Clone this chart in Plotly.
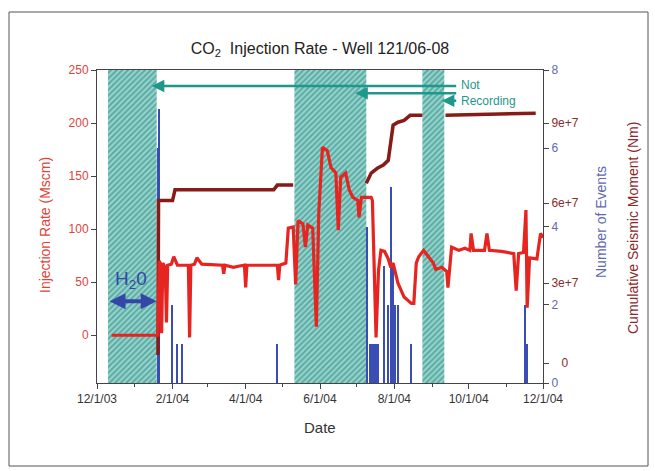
import plotly.graph_objects as go

# ---------------- data ----------------
inj_dates = ["2003-12-13", "2004-01-19", "2004-01-20", "2004-01-21", "2004-01-22", "2004-01-23",
             "2004-01-24", "2004-01-26", "2004-01-27", "2004-01-28", "2004-01-31", "2004-02-02",
             "2004-02-05", "2004-02-14", "2004-02-15", "2004-02-16", "2004-02-19", "2004-02-21",
             "2004-02-25", "2004-03-13", "2004-03-14", "2004-03-15", "2004-03-22", "2004-03-26",
             "2004-03-31", "2004-04-01", "2004-04-02", "2004-04-27", "2004-04-28", "2004-04-29",
             "2004-05-04", "2004-05-06", "2004-05-10", "2004-05-12", "2004-05-14", "2004-05-18",
             "2004-05-20", "2004-05-22", "2004-05-26", "2004-05-29", "2004-05-31", "2004-06-03",
             "2004-06-07", "2004-06-10", "2004-06-14", "2004-06-16", "2004-06-18", "2004-06-22",
             "2004-06-25", "2004-06-28", "2004-07-02", "2004-07-03", "2004-07-05", "2004-07-13",
             "2004-07-14", "2004-07-17", "2004-07-19", "2004-07-21", "2004-07-24", "2004-07-27",
             "2004-07-29", "2004-07-31", "2004-08-02", "2004-08-04", "2004-08-09", "2004-08-15",
             "2004-08-17", "2004-08-19", "2004-08-21", "2004-08-25", "2004-08-29", "2004-09-02",
             "2004-09-04", "2004-09-09", "2004-09-13", "2004-09-14", "2004-09-17", "2004-09-23",
             "2004-09-28", "2004-10-02", "2004-10-03", "2004-10-05", "2004-10-14", "2004-10-16",
             "2004-10-18", "2004-10-28", "2004-11-07", "2004-11-09", "2004-11-11", "2004-11-15",
             "2004-11-17", "2004-11-18", "2004-11-20", "2004-11-26", "2004-11-29", "2004-12-01"]
inj_rate = [0, 0, 0, 70, 68, 2,
            68, 64, 12, 66, 67, 74,
            66, 66, -2, 66, 67, 73,
            67, 66, 58, 66, 64, 65,
            66, 45, 66, 66, 52, 66,
            68, 101, 102, 48, 108, 105,
            83, 104, 101, 8, 115, 177,
            174, 158, 153, 99, 149, 153,
            137, 130, 127, 111, 130, 130,
            127, -2, 61, 80, 79, 72,
            64, 68, 58, 49, 36, 30,
            30, 68, 74, 80, 74, 68,
            62, 64, 60, 45, 83, 80,
            82, 80, 96, 80, 80, 96,
            80, 79, 77, 42, 77, 78,
            118, 26, 73, 72, 96, 92]

event_dates = ["2004-01-20", "2004-01-21", "2004-02-01", "2004-02-05", "2004-02-09", "2004-04-27",
               "2004-07-10", "2004-07-12", "2004-07-13", "2004-07-14", "2004-07-15", "2004-07-16",
               "2004-07-17", "2004-07-18", "2004-07-19", "2004-07-24", "2004-07-27", "2004-07-29",
               "2004-07-30", "2004-07-31", "2004-08-02", "2004-08-04", "2004-08-15",
               "2004-11-16", "2004-11-18"]
event_counts = [6, 7, 2, 1, 1, 1,
                4, 1, 1, 1, 1, 1,
                1, 1, 1, 3, 2, 5,
                2, 3, 2, 2, 1,
                2, 1]

moment_dates = ["2004-01-20 00:00", "2004-01-20 12:00", "2004-02-01", "2004-02-02", "2004-02-03",
                "2004-04-24", "2004-04-27", "2004-05-10", None,
                "2004-07-09", "2004-07-13", "2004-07-18", "2004-07-23", "2004-07-27", "2004-07-29",
                "2004-07-31", "2004-08-04", "2004-08-09", "2004-08-14", "2004-08-24", None,
                "2004-09-12", "2004-10-20", "2004-11-25"]
moment_vals = [0.3e7, 6.1e7, 6.1e7, 6.3e7, 6.5e7,
               6.5e7, 6.68e7, 6.68e7, None,
               6.75e7, 7.13e7, 7.31e7, 7.43e7, 7.61e7, 8.36e7,
               8.93e7, 9.04e7, 9.11e7, 9.3e7, 9.3e7, None,
               9.3e7, 9.33e7, 9.38e7]

# periods when the seismic array was not recording
gap_starts = ["2003-12-10", "2004-05-11", "2004-08-24"]
gap_ends = ["2004-01-19", "2004-07-09", "2004-09-11"]

inj_ticks = [0, 50, 100, 150, 200, 250]
event_ticks = [0, 2, 4, 6, 8]
moment_ticks = [0, 3e7, 6e7, 9e7]
moment_ticktext = ["\u00a0\u00a0\u00a00", "3e+7", "6e+7", "9e+7"]

Y_RANGE = [-45, 250]
EV_RANGE = [0, 8]
MOM_RANGE = [-0.75e7, 11e7]

RED = "#e62420"
MAROON = "#861b18"
BLUE = "#3a4db5"
TEAL = "#1f978b"
FONT = "Liberation Sans, Arial, sans-serif"

# ---------------- figure ----------------
fig = go.Figure()

# hatched "not recording" bands
for s, e in zip(gap_starts, gap_ends):
    fig.add_trace(go.Scatter(
        x=[s, e, e, s, s], y=[Y_RANGE[0], Y_RANGE[0], Y_RANGE[1], Y_RANGE[1], Y_RANGE[0]],
        mode="lines", line=dict(width=0), fill="toself", fillcolor="#56aea5",
        fillpattern=dict(shape="/", bgcolor="#54ada4", fgcolor="#eaf7f5", size=4, solidity=0.5),
        hoverinfo="skip", showlegend=False, xaxis="x", yaxis="y"))

fig.add_trace(go.Bar(x=event_dates, y=event_counts, marker=dict(color=BLUE, line=dict(width=0)),
                     width=1.0 * 86400000, showlegend=False, xaxis="x", yaxis="y2"))

fig.add_trace(go.Scatter(x=moment_dates, y=moment_vals, mode="lines",
                         line=dict(color=MAROON, width=3.5), connectgaps=False,
                         showlegend=False, xaxis="x", yaxis="y3"))

fig.add_trace(go.Scatter(x=inj_dates, y=inj_rate, mode="lines",
                         line=dict(color=RED, width=3.2), showlegend=False,
                         xaxis="x", yaxis="y4"))

L, R, T, B = 97, 543, 70, 383
W, H = 655, 471


def px(xp):
    return (xp - L) / (R - L)


def py(yp):
    return (B - yp) / (B - T)


axis_common = dict(showgrid=False, zeroline=False, linecolor="#444", linewidth=1,
                   ticks="outside", ticklen=5, tickcolor="#444")

fig.update_layout(
    width=W, height=H,
    margin=dict(l=L, r=W - R, t=T, b=H - B),
    paper_bgcolor="white", plot_bgcolor="white",
    font=dict(family=FONT, size=12, color="#333"),
    bargap=0,
    title=dict(text="CO<sub>2</sub>  Injection Rate - Well 121/06-08",
               x=0.5 * (L + R) / W, xanchor="center", y=1 - 48 / H, yanchor="middle",
               font=dict(size=16, color="#222", family=FONT)),
    xaxis=dict(type="date", range=["2003-12-01", "2004-12-01"], tick0="2003-12-01", dtick="M2",
               tickformat="%-m/%-d/%y", showline=True, mirror=True,
               minor=dict(dtick="M1", ticks="outside", ticklen=3, tickcolor="#444"),
               tickfont=dict(size=12, color="#333"), **axis_common),
    yaxis=dict(range=Y_RANGE, tickvals=inj_ticks, showline=True,
               tickfont=dict(size=12, color="#e04438"), **axis_common),
    yaxis2=dict(range=EV_RANGE, tickvals=event_ticks, overlaying="y", side="right", anchor="x",
                showline=True, tickfont=dict(size=12, color="#6367b0"), **axis_common),
    yaxis3=dict(range=MOM_RANGE, tickvals=moment_ticks, ticktext=moment_ticktext,
                overlaying="y", side="right", anchor="x", showline=False,
                tickfont=dict(size=12, color="#8b2a2a"),
                showgrid=False, zeroline=False, ticks="outside", ticklen=5, tickcolor="#444"),
    yaxis4=dict(matches="y", overlaying="y", visible=False, range=Y_RANGE),
)

ann = []
ann.append(dict(text="Injection Rate (Mscm)", xref="paper", yref="paper", x=px(45), y=py(225),
                xanchor="center", yanchor="middle",
                textangle=-90, showarrow=False, font=dict(size=14, color="#e04438")))
ann.append(dict(text="Number of Events", xref="paper", yref="paper", x=px(601), y=py(222),
                xanchor="center", yanchor="middle",
                textangle=-90, showarrow=False, font=dict(size=14, color="#6367b0")))
ann.append(dict(text="Cumulative Seismic Moment (Nm)", xref="paper", yref="paper", x=px(633),
                y=py(228), xanchor="center", yanchor="middle",
                textangle=-90, showarrow=False, font=dict(size=14, color="#8b2a2a")))
ann.append(dict(text="Date", xref="paper", yref="paper", x=px(320), y=py(427),
                xanchor="center", yanchor="middle",
                showarrow=False, font=dict(size=15, color="#333")))

# H2O label and double arrow
ann.append(dict(text="H<sub>2</sub>0", x="2003-12-29", y=52, xref="x", yref="y",
                xanchor="center", yanchor="middle",
                showarrow=False, font=dict(size=19, color="#3546a8")))
ann.append(dict(text="", x="2004-01-19", y=32, ax="2003-12-10", ay=32, xref="x", yref="y",
                axref="x", ayref="y", showarrow=True, arrowhead=2, startarrowhead=2,
                arrowside="end+start", arrowwidth=4, arrowsize=0.8, startarrowsize=0.8,
                arrowcolor="#3546a8"))

# Not recording arrows
tail = "2004-09-22"
for head, yv in [("2004-01-15", 235), ("2004-06-30", 228), ("2004-09-09", 221)]:
    ann.append(dict(text="", x=head, y=yv, ax=tail, ay=yv, xref="x", yref="y", axref="x",
                    ayref="y", showarrow=True, arrowhead=2, arrowsize=1, arrowwidth=2.5,
                    arrowcolor=TEAL))
ann.append(dict(text="Not", x="2004-09-23", y=236, xref="x", yref="y", xanchor="left",
                showarrow=False, font=dict(size=12, color=TEAL)))
ann.append(dict(text="Recording", x="2004-09-23", y=221, xref="x", yref="y", xanchor="left",
                showarrow=False, font=dict(size=12, color=TEAL)))

fig.update_layout(annotations=ann)

# outer frame
fig.add_shape(type="rect", xref="paper", yref="paper", x0=px(9), x1=px(648), y0=py(466),
              y1=py(12), line=dict(color="#555", width=1), layer="below")

fig.write_html("out.html")
